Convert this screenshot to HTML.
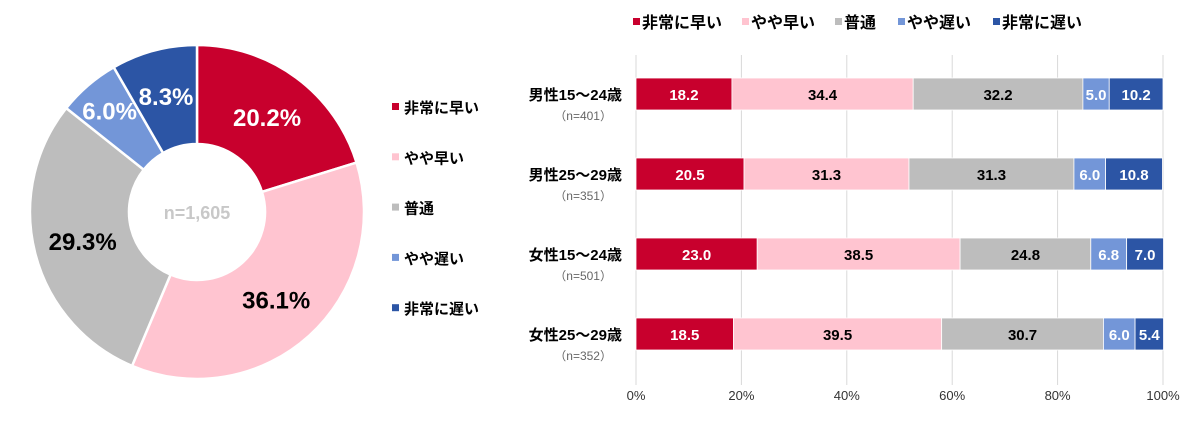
<!DOCTYPE html>
<html><head><meta charset="utf-8">
<style>
body{margin:0;background:#fff;font-family:"Liberation Sans","Noto Sans CJK JP",sans-serif;}
svg{display:block}
</style></head>
<body>
<svg id="chart" width="1200" height="424" viewBox="0 0 1200 424" font-family="Liberation Sans, Noto Sans CJK JP, sans-serif"></svg>
<script>
const categories=["非常に早い","やや早い","普通","やや遅い","非常に遅い"];
const colors=["#C8002D","#FFC4D0","#BDBDBD","#7396D8","#2C55A5"];
const pieValues=[20.2,36.1,29.3,6.0,8.3];
const groups=["男性15〜24歳","男性25〜29歳","女性15〜24歳","女性25〜29歳"];
const groupN=["（n=401）","（n=351）","（n=501）","（n=352）"];
const s1=[18.2,20.5,23.0,18.5];
const s2=[34.4,31.3,38.5,39.5];
const s3=[32.2,31.3,24.8,30.7];
const s4=[5.0,6.0,6.8,6.0];
const s5=[10.2,10.8,7.0,5.4];
const xTicks=[0,20,40,60,80,100];
const NS="http://www.w3.org/2000/svg";
const svg=document.getElementById('chart');
function mk(t,a,p){const e=document.createElementNS(NS,t);for(const k in a)e.setAttribute(k,a[k]);(p||svg).appendChild(e);return e;}

// donut
const cx=197,cy=212,R=167,r=68;
const tot=pieValues.reduce((a,b)=>a+b,0);
let ang=0;
const pieLblColor=["#fff","#000","#000","#fff","#fff"];
const pieLblR=[118,118,118,134,120];
pieValues.forEach((v,i)=>{
  const a0=ang/tot*2*Math.PI, a1=(ang+v)/tot*2*Math.PI; ang+=v;
  const P=(rad,a)=>[cx+rad*Math.sin(a),cy-rad*Math.cos(a)];
  const [x0,y0]=P(R,a0),[x1,y1]=P(R,a1),[x2,y2]=P(r,a1),[x3,y3]=P(r,a0);
  const lg=(a1-a0)>Math.PI?1:0;
  const p=mk('path',{d:`M${x0},${y0}A${R},${R} 0 ${lg} 1 ${x1},${y1}L${x2},${y2}A${r},${r} 0 ${lg} 0 ${x3},${y3}Z`,fill:colors[i],stroke:'#fff','stroke-width':2.5});
  
  
  const am=(a0+a1)/2, rm=pieLblR[i];
  const [lx,ly]=P(rm,am);
  const t=mk('text',{x:lx,y:ly+9,'text-anchor':'middle','font-size':24,'font-weight':'bold',fill:pieLblColor[i]});
  t.textContent=v.toFixed(1)+'%';
  
  
});
const nt=mk('text',{x:cx,y:cy+7,'text-anchor':'middle','font-size':18,'font-weight':'bold',fill:'#C8C8C8'});
nt.textContent='n=1,605';



// left legend
categories.forEach((c,i)=>{
  const y=107+i*50.3;
  const g=mk('g',{});
  
  
  mk('rect',{x:392,y:y-4,width:7,height:7,fill:colors[i]},g);
  const t=mk('text',{x:404,y:y+6,'font-size':15,'font-weight':'bold',fill:'#000'},g);t.textContent=c;
});

// bar chart
const x0=636,x1=1163;
const X=v=>x0+(x1-x0)*v/100;
xTicks.forEach(v=>{
  const l=mk('line',{x1:X(v),x2:X(v),y1:55,y2:385,stroke:'#D9D9D9','stroke-width':1});
  
  
  const t=mk('text',{x:X(v),y:400,'text-anchor':'middle','font-size':13,fill:'#333'});
  t.textContent=v+'%';
  
  
});
const series=[s1,s2,s3,s4,s5];
const labelColor=["#fff","#000","#000","#fff","#fff"];
groups.forEach((g,gi)=>{
  const yc=94+gi*80, h=32;
  let acc=0;
  series.forEach((s,si)=>{
    const v=s[gi];
    const rc=mk('rect',{x:X(acc),y:yc-h/2,width:X(acc+v)-X(acc),height:h,fill:colors[si],stroke:'#fff','stroke-width':0.8});
    
    
    const t=mk('text',{x:(X(acc)+X(acc+v))/2,y:yc+6,'text-anchor':'middle','font-size':15,'font-weight':'bold',fill:labelColor[si]});
    t.textContent=v.toFixed(1);
    
    
    acc+=v;
  });
  const t=mk('text',{x:622,y:yc+6,'text-anchor':'end','font-size':15,'font-weight':'bold',fill:'#000'});
  t.textContent=g;
  
  
  const n=mk('text',{x:612,y:yc+26,'text-anchor':'end','font-size':12,fill:'#666'});
  n.textContent=groupN[gi];
  
  
});
// top legend
const legX=[633,742,835,898,993];
categories.forEach((c,i)=>{
  const g=mk('g',{});
  
  
  mk('rect',{x:legX[i],y:18,width:7,height:7,fill:colors[i]},g);
  const t=mk('text',{x:legX[i]+9,y:28,'font-size':16,'font-weight':'bold',fill:'#000'},g);t.textContent=c;
});
</script>
</body></html>
